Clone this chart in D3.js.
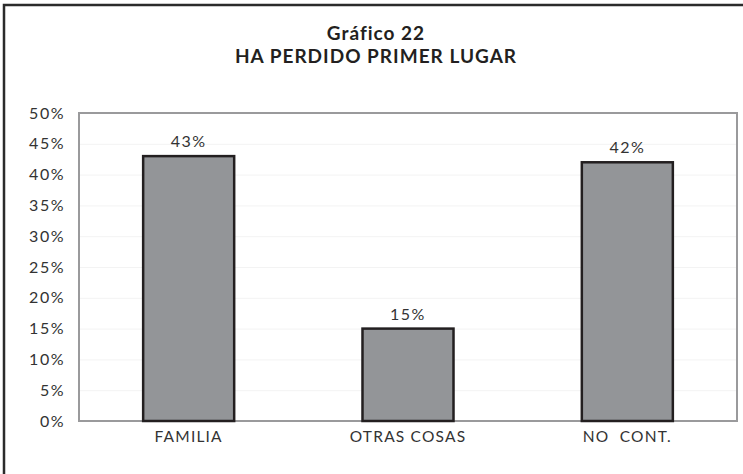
<!DOCTYPE html>
<html>
<head>
<meta charset="utf-8">
<script src="https://cdn.jsdelivr.net/npm/d3@7"></script>
<style>
  body { margin: 0; background: #fff; }
  svg { display: block; }
  .tick text { font-family: Lato, "Open Sans", sans-serif; }
</style>
</head>
<body>
<script>
// data
var categories = ["FAMILIA", "OTRAS COSAS", "NO  CONT."];
var values = [0.43, 0.15, 0.42];
var valueLabels = ["43%", "15%", "42%"];
var yTicks = [0, 0.05, 0.10, 0.15, 0.20, 0.25, 0.30, 0.35, 0.40, 0.45, 0.50];
var titleLines = ["Gráfico 22", "HA PERDIDO PRIMER LUGAR"];

var width = 743, height = 474;
var margin = { left: 79, right: 6, top: 113, bottom: 53 };
var innerW = width - margin.left - margin.right;
var innerH = height - margin.top - margin.bottom;

var svg = d3.select("body").append("svg")
  .attr("width", width)
  .attr("height", height);

// outer frame (runs past right/bottom edge)
svg.append("rect")
  .attr("x", 4).attr("y", 5)
  .attr("width", width + 10).attr("height", height + 10)
  .attr("fill", "none")
  .attr("stroke", "#2b2b2b")
  .attr("stroke-width", 2.5);

// title
svg.selectAll("text.title")
  .data(titleLines)
  .enter()
  .append("text")
  .attr("class", "title")
  .attr("x", 376)
  .attr("y", (d, i) => 40 + i * 23)
  .attr("text-anchor", "middle")
  .style("font-family", "Lato, 'Open Sans', sans-serif")
  .style("font-weight", "bold")
  .style("font-size", "19px")
  .style("letter-spacing", "1px")
  .style("fill", "#231f20")
  .text(d => d);

var chartGroup = svg.append("g")
  .attr("transform", "translate(" + margin.left + "," + margin.top + ")");

var x = d3.scaleBand()
  .domain(categories)
  .range([0, innerW])
  .paddingInner(0.585)
  .paddingOuter(0.2925);

var y = d3.scaleLinear()
  .domain([0, 0.5])
  .range([innerH, 0]);

// faint gridlines
chartGroup.append("g")
  .attr("class", "grid")
  .call(d3.axisLeft(y).tickValues(yTicks).tickSize(-innerW).tickFormat(""))
  .call(g => g.select(".domain").remove())
  .call(g => g.selectAll("line").attr("stroke", "#f3f3f3").attr("stroke-width", 1));

// plot frame
chartGroup.append("rect")
  .attr("x", 0).attr("y", 0)
  .attr("width", innerW).attr("height", innerH)
  .attr("fill", "none")
  .attr("stroke", "#9a9a9c")
  .attr("stroke-width", 2);

// y axis labels
chartGroup.append("g")
  .attr("class", "y axis")
  .call(d3.axisLeft(y).tickValues(yTicks).tickSize(0).tickPadding(14)
    .tickFormat(d => Math.round(d * 100) + "%"))
  .call(g => g.select(".domain").remove())
  .selectAll("text")
  .style("font-size", "16px")
  .style("letter-spacing", "1.5px")
  .style("fill", "#333");

// x axis labels
chartGroup.append("g")
  .attr("class", "x axis")
  .attr("transform", "translate(0," + innerH + ")")
  .call(d3.axisBottom(x).tickSize(0).tickPadding(10))
  .call(g => g.select(".domain").remove())
  .selectAll("text")
  .style("font-size", "15.5px")
  .style("letter-spacing", "1.2px")
  .style("fill", "#333")
  .style("white-space", "pre");

// bars
chartGroup.selectAll("rect.bar")
  .data(values)
  .enter()
  .append("rect")
  .attr("class", "bar")
  .attr("x", (d, i) => x(categories[i]))
  .attr("y", d => y(d))
  .attr("width", x.bandwidth())
  .attr("height", d => innerH - y(d))
  .attr("fill", "#939598")
  .attr("stroke", "#231f20")
  .attr("stroke-width", 2.5);

// value labels
chartGroup.selectAll("text.val")
  .data(values)
  .enter()
  .append("text")
  .attr("class", "val")
  .attr("x", (d, i) => x(categories[i]) + x.bandwidth() / 2)
  .attr("y", d => y(d) - 9)
  .attr("text-anchor", "middle")
  .style("font-family", "Lato, 'Open Sans', sans-serif")
  .style("font-size", "16px")
  .style("letter-spacing", "1.5px")
  .style("fill", "#333")
  .text((d, i) => valueLabels[i]);
</script>
</body>
</html>
